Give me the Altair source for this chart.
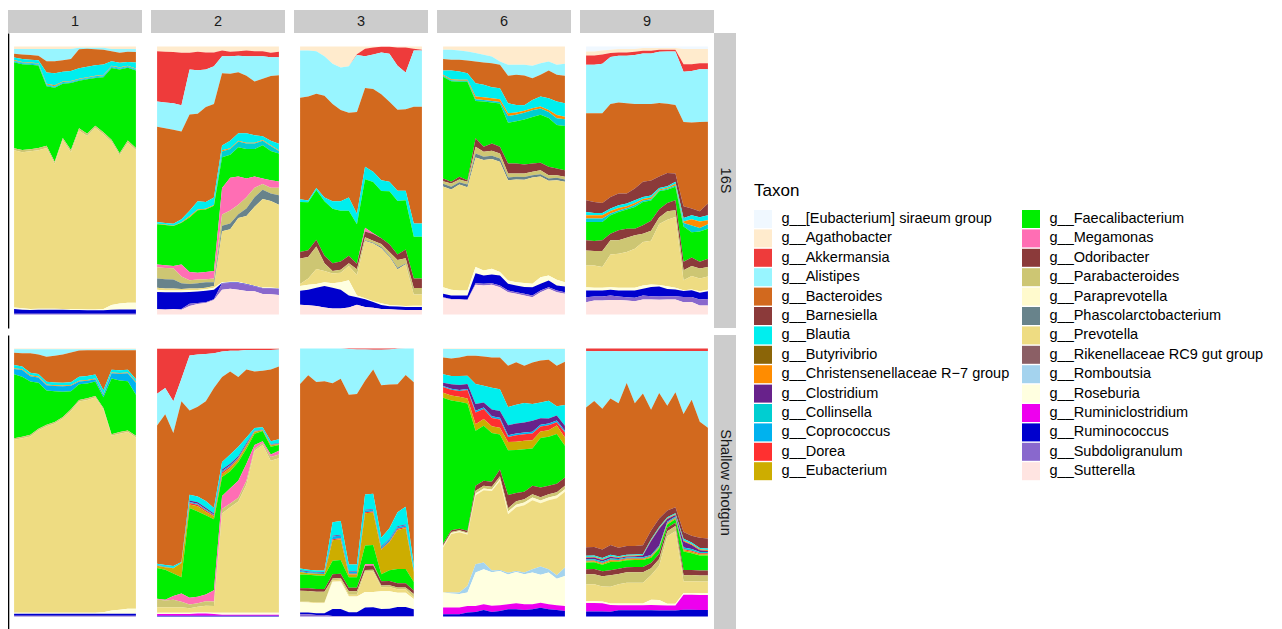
import altair as alt
import pandas as pd

FONT = "Liberation Sans"
STRIP_GRAY = "#CCCCCC"
TEXT_COL = "#1A1A1A"

SHORT = [
    "[Eubacterium] siraeum group", "Agathobacter", "Akkermansia", "Alistipes",
    "Bacteroides", "Barnesiella", "Blautia", "Butyrivibrio",
    "Christensenellaceae R\u22127 group", "Clostridium", "Collinsella", "Coprococcus",
    "Dorea", "Eubacterium", "Faecalibacterium", "Megamonas", "Odoribacter",
    "Parabacteroides", "Paraprevotella", "Phascolarctobacterium", "Prevotella",
    "Rikenellaceae RC9 gut group", "Romboutsia", "Roseburia", "Ruminiclostridium",
    "Ruminococcus", "Subdoligranulum", "Sutterella",
]
COLORS = [
    "#F0F8FF", "#FFEBCD", "#EE3B3B", "#98F5FF", "#D2691E", "#8B3A3A", "#00EEEE",
    "#8B6508", "#FF8C00", "#68228B", "#00CED1", "#00B2EE", "#FF3030", "#CDAD00",
    "#00EE00", "#FF6EB4", "#8B3A3A", "#CDC673", "#FFFACD", "#68838B", "#EEDC82",
    "#8B5F65", "#A4D3EE", "#FFFFE0", "#EE00EE", "#0000CD", "#8968CD", "#FFE4E1",
]
CHR = "Christensenellaceae R\u22127 group"

COLUMN_LABELS = ["1", "2", "3", "6", "9"]
ROW_LABELS = ["16S", "Shallow shotgun"]

# ---- column 1 ----
P1_16S = {
    "Agathobacter": [1, 1, 1, 1, 1, 1, 1, 1, 0.5, 0.5, 0.5, 0.5, 1, 1, 1, 1],
    "Alistipes": [1.7, 2, 2.2, 2.5, 4.5, 4.5, 4.2, 3.7, 0.6, 0.4, 0.6, 0.7, 0.8, 1.4, 1, 1.1],
    "Bacteroides": [1.4, 1.7, 1.8, 1.7, 4.2, 4.5, 4.2, 4.5, 7, 6.6, 5.9, 5.5, 3.7, 3.7, 3.8, 3.9],
    "Blautia": [1, 1.1, 1, 1.1, 4.2, 4.5, 3.7, 3.7, 3.9, 3.9, 3.9, 3.9, 1.7, 1.7, 1.4, 2.2],
    CHR: [0.2, 0.2, 0.2, 0.2, 0.3, 0.3, 0.2, 0.2, 0.2, 0.2, 0.2, 0.2, 0.2, 0.2, 0.2, 0.2],
    "Collinsella": [0.3, 0.3, 0.3, 0.3, 0.3, 0.3, 0.3, 0.3, 0.3, 0.3, 0.3, 0.3, 0.3, 0.3, 0.3, 0.3],
    "Coprococcus": [0.3, 0.3, 0.3, 0.3, 0.3, 0.3, 0.3, 0.3, 0.3, 0.3, 0.3, 0.3, 0.3, 0.3, 0.3, 0.3],
    "Faecalibacterium": [32, 32, 31.5, 30.8, 22.2, 27.5, 20.2, 25, 17.6, 20.2, 17.7, 20.4, 26.7, 31.2, 27.1, 28.8],
    "Parabacteroides": [0.8, 0.8, 0.8, 0.8, 0.8, 0.8, 0.8, 0.8, 0.8, 0.8, 0.8, 0.8, 0.8, 0.8, 0.8, 0.8],
    "Prevotella": [58.6, 58.1, 58.7, 59.1, 59.8, 53.9, 62.9, 58.7, 66.4, 64.3, 67.4, 64.7, 60.7, 55.3, 59.7, 56.9],
    "Roseburia": [0.5, 0.6, 0.4, 0.4, 0.4, 0.4, 0.3, 0.3, 0.3, 0.3, 0.3, 0.5, 1.8, 2.2, 2.5, 2.5],
    "Ruminococcus": [1.8, 1.5, 1.4, 1.5, 1.5, 1.5, 1.5, 1.4, 1.4, 1.3, 1.3, 1.3, 1.5, 1.6, 1.6, 1.6],
    "Subdoligranulum": [0.3, 0.3, 0.3, 0.3, 0.3, 0.3, 0.3, 0.3, 0.3, 0.3, 0.3, 0.3, 0.3, 0.3, 0.3, 0.3],
}
P1_SG = {
    "Agathobacter": [0.3, 0.3, 0.3, 0.3, 0.3, 0.3, 0.3, 0.3, 0.3, 0.3, 0.3, 0.3, 0.3, 0.3, 0.3, 0.3],
    "Alistipes": [1.3, 1.5, 1.5, 2, 2.8, 2.5, 2, 1.2, 0.5, 0.4, 0.4, 0.4, 0.4, 0.4, 0.4, 0.4],
    "Bacteroides": [4.6, 5, 7.3, 7.3, 9.4, 10, 10.6, 11.2, 9.8, 9.6, 9.1, 15, 7.3, 7.5, 7.3, 10.8],
    "Blautia": [1.2, 1, 1, 1, 1, 1, 1, 1, 1.5, 1.5, 1.5, 1.5, 1, 1, 1, 1],
    CHR: [0.3, 0.3, 0.3, 0.3, 0.3, 0.3, 0.3, 0.3, 0.3, 0.3, 0.3, 0.3, 0.3, 0.3, 0.3, 0.3],
    "Coprococcus": [2, 2.5, 2, 2, 2, 2, 2, 2, 1, 1, 0.8, 0.8, 2, 2.5, 3, 4.5],
    "Faecalibacterium": [23.9, 22.5, 20, 17.3, 12.8, 11.5, 9.5, 6.8, 5.9, 5.6, 5.4, 4, 20.8, 19.3, 18.4, 15.4],
    "Parabacteroides": [0.6, 0.6, 0.6, 0.6, 0.6, 0.6, 0.6, 0.6, 0.6, 0.6, 0.6, 0.6, 0.6, 0.6, 0.6, 0.6],
    "Prevotella": [64.8, 65.4, 66.2, 68.6, 70, 71, 72.8, 75.6, 79, 79.7, 80.7, 76, 65.4, 65.8, 66.2, 64.1],
    "Roseburia": [0.3, 0.3, 0.3, 0.3, 0.3, 0.3, 0.3, 0.3, 0.3, 0.3, 0.3, 0.5, 1.2, 1.5, 1.8, 1.8],
    "Ruminococcus": [0.8, 0.8, 0.8, 0.8, 0.8, 0.8, 0.8, 0.8, 0.8, 0.8, 0.8, 0.8, 0.8, 0.8, 0.8, 0.8],
    "Subdoligranulum": [0.3, 0.3, 0.3, 0.3, 0.3, 0.3, 0.3, 0.3, 0.3, 0.3, 0.3, 0.3, 0.3, 0.3, 0.3, 0.3],
}

# ---- column 2 ----
P2_16S = {
    "Agathobacter": [13, 14, 15, 17, 17, 14, 16, 16, 11, 14, 13, 11, 13, 13, 17, 14],
    "Akkermansia": [133, 135, 136, 139, 44, 49, 45, 37, 15, 12, 12, 15, 13, 13, 12, 15],
    "Alistipes": [67, 68, 70, 70, 120, 116, 100, 100, 45, 47, 44, 52, 67, 60, 50, 48],
    "Bacteroides": [253, 252, 250, 233, 255, 232, 252, 248, 192, 178, 162, 153, 143, 153, 172, 182],
    "Blautia": [5, 4, 5, 8, 15, 22, 18, 20, 13, 20, 20, 25, 20, 10, 12, 17],
    CHR: [1, 1, 1, 1, 3, 2, 2, 2, 3, 2, 2, 2, 2, 2, 2, 2],
    "Collinsella": [0, 0, 0, 0, 0, 0, 0, 0, 15, 15, 15, 15, 15, 12, 13, 7],
    "Faecalibacterium": [107, 107, 106, 111, 145, 166, 166, 173, 82, 61, 78, 78, 73, 88, 78, 74],
    "Megamonas": [7, 7, 6, 32, 22, 18, 19, 20, 70, 87, 75, 50, 30, 15, 20, 17],
    "Parabacteroides": [30, 30, 30, 18, 10, 10, 8, 10, 30, 35, 25, 30, 25, 15, 15, 20],
    "Phascolarctobacterium": [25, 25, 24, 15, 12, 14, 15, 10, 15, 15, 10, 20, 25, 25, 20, 25],
    "Prevotella": [5, 5, 5, 4, 4, 4, 4, 5, 135, 140, 170, 180, 210, 235, 230, 222],
    "Roseburia": [6, 5, 5, 5, 5, 4, 4, 5, 2, 2, 2, 1, 1, 1, 1, 1],
    "Ruminococcus": [45, 45, 44, 44, 31, 30, 30, 25, 1, 1, 1, 1, 1, 1, 1, 1],
    "Subdoligranulum": [1, 1, 1, 2, 6, 3, 2, 2, 17, 15, 18, 17, 13, 15, 16, 16],
    "Sutterella": [14, 13, 14, 13, 23, 28, 31, 39, 66, 69, 66, 63, 62, 55, 54, 52],
}
P2_SG = {
    "Agathobacter": [1, 1, 1, 1, 1, 1, 1, 1, 1, 1, 1, 1, 1, 1, 1, 1],
    "Akkermansia": [120, 105, 140, 80, 18, 15, 14, 12, 7, 5, 5, 3, 3, 3, 3, 2],
    "Alistipes": [85, 70, 85, 60, 147, 140, 126, 93, 68, 55, 70, 52, 57, 55, 52, 45],
    "Bacteroides": [370, 402, 355, 430, 225, 240, 267, 320, 225, 220, 185, 180, 150, 150, 190, 193],
    "Blautia": [3, 4, 5, 2, 15, 15, 18, 15, 20, 25, 25, 15, 7, 5, 8, 10],
    "Clostridium": [1, 1, 0, 0, 4, 4, 4, 3, 4, 4, 3, 3, 1, 1, 1, 1],
    "Coprococcus": [1, 1, 1, 1, 3, 3, 3, 2, 3, 3, 2, 2, 1, 1, 1, 1],
    "Dorea": [0, 0, 0, 0, 4, 4, 4, 3, 5, 4, 3, 3, 1, 1, 1, 1],
    "Eubacterium": [6, 7, 14, 38, 9, 14, 9, 7, 8, 9, 7, 7, 5, 2, 4, 2],
    "Faecalibacterium": [82, 80, 60, 43, 240, 228, 212, 190, 50, 45, 50, 40, 30, 27, 20, 15],
    "Megamonas": [2, 2, 10, 22, 18, 17, 18, 30, 35, 40, 45, 45, 10, 5, 7, 10],
    "Parabacteroides": [21, 18, 20, 15, 10, 10, 12, 12, 12, 10, 10, 10, 5, 5, 10, 10],
    "Prevotella": [15, 15, 15, 15, 12, 15, 18, 18, 263, 280, 295, 340, 430, 445, 403, 410],
    "Roseburia": [3, 3, 3, 3, 3, 3, 3, 3, 5, 5, 5, 5, 5, 5, 5, 5],
    "Ruminiclostridium": [5, 5, 5, 5, 5, 6, 6, 5, 3, 3, 3, 3, 3, 3, 3, 3],
    "Ruminococcus": [2, 2, 2, 2, 2, 2, 2, 2, 2, 2, 2, 2, 2, 2, 2, 2],
}

# ---- column 3 ----
P3_16S = {
    "Agathobacter": [11, 11, 13, 26, 46, 56, 53, 21, 6, 3, 1, 1, 3, 3, 6, 9],
    "Akkermansia": [0, 0, 0, 0, 0, 0, 0, 2, 20, 18, 15, 18, 48, 66, 5, 2],
    "Alistipes": [125, 122, 113, 105, 107, 113, 123, 152, 83, 90, 110, 127, 115, 97, 148, 148],
    "Bacteroides": [270, 276, 250, 270, 258, 242, 225, 272, 207, 215, 227, 210, 213, 215, 307, 307],
    "Blautia": [7, 5, 5, 10, 20, 25, 35, 28, 33, 27, 28, 25, 27, 25, 35, 35],
    "Faecalibacterium": [133, 127, 132, 145, 145, 135, 120, 105, 127, 133, 125, 140, 140, 130, 110, 110],
    "Megamonas": [0, 0, 0, 0, 0, 0, 0, 0, 10, 2, 0, 0, 0, 0, 0, 0],
    "Odoribacter": [17, 18, 18, 20, 20, 22, 20, 15, 15, 18, 15, 20, 15, 23, 25, 25],
    "Parabacteroides": [68, 57, 60, 20, 7, 8, 7, 15, 8, 5, 8, 10, 20, 14, 17, 17],
    "Phascolarctobacterium": [0, 0, 0, 0, 0, 0, 0, 0, 2, 2, 3, 3, 4, 2, 0, 0],
    "Prevotella": [5, 17, 40, 30, 26, 25, 38, 55, 150, 150, 145, 127, 95, 110, 30, 30],
    "Roseburia": [13, 13, 10, 10, 12, 20, 40, 5, 3, 2, 5, 3, 3, 3, 3, 3],
    "Ruminococcus": [37, 41, 48, 57, 55, 50, 32, 20, 20, 15, 10, 8, 8, 8, 8, 8],
    "Sutterella": [26, 25, 23, 19, 16, 16, 19, 26, 20, 18, 15, 14, 13, 12, 12, 12],
}
P3_SG = {
    "Akkermansia": [0, 0, 0, 0, 0, 0, 2, 3, 3, 4, 4, 3, 1, 0, 0],
    "Alistipes": [105, 80, 100, 98, 102, 88, 130, 127, 92, 58, 101, 99, 100, 75, 100],
    "Bacteroides": [545, 578, 560, 564, 408, 412, 483, 485, 335, 363, 435, 408, 360, 370, 540],
    "Blautia": [5, 5, 5, 5, 40, 40, 20, 20, 45, 45, 25, 30, 40, 50, 15],
    "Clostridium": [2, 2, 2, 2, 2, 2, 1, 1, 2, 2, 2, 2, 2, 2, 1],
    "Coprococcus": [3, 3, 3, 3, 8, 8, 5, 5, 5, 5, 5, 5, 5, 5, 3],
    "Dorea": [0, 0, 0, 0, 3, 3, 2, 2, 3, 3, 2, 2, 3, 3, 1],
    "Eubacterium": [8, 5, 5, 5, 60, 60, 8, 8, 95, 95, 70, 80, 110, 115, 30],
    "Faecalibacterium": [40, 40, 40, 40, 40, 40, 30, 30, 55, 55, 20, 30, 40, 40, 25],
    "Megamonas": [0, 0, 0, 0, 0, 0, 0, 0, 5, 5, 0, 0, 0, 0, 0],
    "Odoribacter": [8, 8, 8, 8, 12, 12, 10, 10, 12, 12, 12, 12, 12, 12, 10],
    "Parabacteroides": [32, 32, 32, 32, 5, 5, 10, 10, 5, 5, 5, 5, 5, 5, 10],
    "Prevotella": [2, 2, 2, 2, 5, 5, 5, 5, 60, 60, 12, 12, 10, 10, 5],
    "Roseburia": [30, 30, 30, 30, 80, 80, 45, 45, 45, 45, 50, 50, 40, 40, 30],
    "Ruminococcus": [5, 5, 5, 5, 20, 20, 10, 10, 25, 25, 20, 20, 25, 25, 20],
    "Subdoligranulum": [7, 7, 5, 5, 2, 2, 2, 2, 2, 2, 2, 2, 2, 2, 2],
}

# ---- column 6 ----
P6_16S = {
    "Agathobacter": [10, 10, 12, 15, 20, 25, 30, 45, 55, 55, 55, 58, 50, 45, 55, 52],
    "Alistipes": [28, 30, 28, 27, 25, 23, 20, 10, 33, 30, 32, 37, 35, 27, 30, 36],
    "Bacteroides": [34, 32, 35, 38, 65, 67, 72, 70, 82, 90, 88, 65, 65, 83, 80, 82],
    "Blautia": [13, 26, 25, 20, 40, 37, 33, 33, 30, 23, 17, 25, 30, 35, 40, 40],
    CHR: [3, 3, 3, 3, 8, 8, 8, 8, 8, 6, 6, 6, 6, 6, 10, 8],
    "Collinsella": [3, 3, 3, 3, 5, 5, 5, 5, 20, 20, 20, 20, 18, 18, 20, 20],
    "Faecalibacterium": [304, 301, 284, 294, 112, 135, 122, 129, 122, 126, 134, 139, 144, 146, 130, 132],
    "Odoribacter": [8, 5, 8, 5, 25, 15, 22, 20, 30, 30, 27, 25, 22, 25, 20, 20],
    "Parabacteroides": [8, 10, 8, 8, 20, 15, 15, 15, 12, 10, 10, 10, 12, 10, 8, 8],
    "Phascolarctobacterium": [8, 8, 7, 8, 12, 10, 10, 10, 8, 8, 8, 7, 7, 7, 7, 7],
    "Prevotella": [301, 300, 317, 309, 328, 330, 328, 330, 300, 307, 308, 318, 301, 283, 298, 300],
    "Roseburia": [20, 17, 15, 15, 18, 15, 17, 10, 10, 10, 12, 10, 20, 15, 17, 13],
    "Ruminococcus": [10, 10, 10, 12, 30, 25, 26, 30, 20, 20, 20, 25, 20, 20, 15, 17],
    "Subdoligranulum": [2, 2, 2, 2, 5, 5, 5, 5, 5, 5, 5, 5, 5, 5, 5, 5],
    "Sutterella": [50, 45, 45, 43, 89, 87, 89, 82, 67, 62, 57, 52, 67, 77, 67, 62],
}
P6_SG = {
    "Agathobacter": [2, 2, 2, 2, 2, 2, 2, 2, 2, 2, 2, 2, 2, 2, 2, 2],
    "Alistipes": [25, 28, 25, 20, 20, 22, 25, 25, 50, 40, 50, 40, 35, 32, 50, 38],
    "Bacteroides": [50, 52, 55, 60, 85, 88, 90, 95, 125, 128, 112, 125, 127, 123, 122, 130],
    "Blautia": [25, 25, 27, 25, 60, 50, 65, 65, 55, 57, 58, 50, 48, 53, 28, 62],
    "Clostridium": [10, 13, 15, 15, 20, 15, 20, 20, 30, 30, 30, 33, 20, 15, 15, 15],
    "Coprococcus": [3, 3, 3, 3, 5, 5, 5, 5, 5, 5, 5, 5, 5, 5, 5, 5],
    "Dorea": [17, 17, 17, 25, 35, 30, 25, 25, 15, 20, 20, 20, 15, 15, 10, 15],
    "Eubacterium": [15, 15, 15, 15, 20, 20, 20, 20, 25, 25, 25, 25, 20, 20, 25, 25],
    "Faecalibacterium": [435, 387, 378, 382, 165, 165, 145, 105, 135, 130, 128, 112, 150, 147, 150, 95],
    "Odoribacter": [5, 5, 5, 5, 15, 15, 15, 20, 40, 25, 22, 25, 30, 25, 25, 25],
    "Parabacteroides": [3, 3, 3, 3, 8, 8, 8, 8, 10, 10, 10, 10, 10, 10, 10, 10],
    "Paraprevotella": [3, 3, 3, 3, 5, 5, 5, 5, 8, 8, 8, 8, 8, 8, 8, 8],
    "Prevotella": [134, 174, 179, 154, 207, 217, 237, 267, 177, 192, 202, 207, 192, 207, 232, 227],
    "Romboutsia": [0, 3, 5, 20, 25, 20, 5, 3, 5, 3, 5, 10, 25, 10, 10, 25],
    "Roseburia": [45, 42, 40, 40, 100, 105, 100, 102, 90, 95, 90, 95, 85, 95, 80, 90],
    "Ruminiclostridium": [20, 20, 20, 20, 18, 17, 18, 17, 15, 18, 17, 15, 15, 15, 14, 15],
    "Ruminococcus": [7, 7, 7, 12, 14, 20, 14, 17, 22, 22, 20, 22, 27, 22, 20, 17],
}

# ---- column 9 ----
P9_16S = {
    "[Eubacterium] siraeum group": [15, 15, 12, 10, 8, 8, 8, 5, 5, 5, 5, 5, 8, 8, 8, 8],
    "Agathobacter": [12, 12, 12, 10, 10, 10, 8, 8, 8, 5, 5, 5, 45, 45, 42, 42],
    "Akkermansia": [28, 28, 28, 12, 10, 10, 10, 8, 8, 6, 5, 5, 22, 20, 18, 18],
    "Alistipes": [145, 145, 148, 140, 140, 142, 146, 151, 151, 156, 157, 160, 150, 152, 157, 157],
    "Bacteroides": [260, 265, 268, 278, 272, 270, 253, 233, 228, 223, 208, 205, 250, 255, 265, 245],
    "Barnesiella": [35, 33, 30, 35, 35, 30, 35, 45, 45, 35, 40, 25, 35, 20, 18, 35],
    "Blautia": [10, 7, 7, 7, 8, 8, 8, 6, 6, 5, 4, 6, 10, 12, 12, 15],
    CHR: [10, 10, 10, 8, 8, 6, 6, 5, 5, 3, 3, 5, 5, 18, 20, 12],
    "Collinsella": [10, 10, 10, 5, 4, 4, 6, 4, 4, 2, 3, 4, 10, 20, 10, 13],
    "Faecalibacterium": [55, 57, 55, 55, 55, 57, 65, 70, 60, 55, 40, 40, 105, 75, 90, 90],
    "Odoribacter": [30, 30, 32, 20, 30, 27, 20, 25, 30, 25, 25, 30, 25, 25, 20, 25],
    "Parabacteroides": [45, 43, 48, 42, 40, 43, 40, 25, 30, 20, 25, 20, 30, 30, 30, 28],
    "Prevotella": [65, 67, 62, 98, 102, 107, 117, 130, 130, 185, 200, 212, 30, 40, 38, 40],
    "Roseburia": [10, 8, 8, 8, 8, 8, 8, 10, 8, 5, 8, 5, 2, 2, 4, 4],
    "Ruminococcus": [20, 18, 18, 17, 18, 20, 22, 20, 27, 30, 22, 20, 18, 20, 20, 23],
    "Subdoligranulum": [15, 12, 12, 13, 10, 10, 10, 12, 10, 10, 10, 10, 15, 15, 18, 20],
    "Sutterella": [37, 42, 42, 44, 44, 42, 40, 45, 45, 45, 45, 45, 37, 37, 27, 27],
}
P9_SG = {
    "Akkermansia": [8, 8, 8, 8, 8, 8, 8, 8, 8, 8, 8, 8, 8, 8, 8, 8],
    "Alistipes": [167, 147, 172, 144, 150, 92, 150, 122, 167, 122, 162, 122, 187, 144, 212, 230],
    "Bacteroides": [413, 430, 420, 443, 417, 472, 412, 438, 345, 365, 310, 340, 350, 403, 348, 332],
    "Barnesiella": [25, 25, 25, 30, 25, 25, 25, 25, 25, 25, 20, 18, 20, 20, 30, 30],
    "Blautia": [4, 4, 4, 4, 3, 3, 3, 3, 3, 3, 3, 3, 5, 5, 4, 4],
    CHR: [2, 2, 2, 2, 2, 2, 2, 2, 2, 2, 2, 2, 3, 3, 3, 3],
    "Clostridium": [5, 5, 5, 5, 3, 3, 3, 5, 40, 50, 8, 5, 18, 12, 5, 3],
    "Collinsella": [4, 4, 4, 4, 3, 3, 3, 3, 3, 3, 3, 3, 5, 5, 4, 4],
    "Dorea": [2, 2, 2, 2, 2, 2, 2, 2, 2, 2, 2, 2, 3, 3, 3, 3],
    "Eubacterium": [3, 3, 3, 5, 3, 3, 3, 3, 3, 3, 3, 3, 4, 4, 4, 4],
    "Faecalibacterium": [20, 20, 20, 25, 20, 20, 20, 20, 15, 15, 10, 10, 55, 50, 45, 45],
    "Odoribacter": [15, 15, 15, 15, 15, 15, 15, 15, 15, 15, 10, 10, 15, 15, 15, 15],
    "Parabacteroides": [30, 30, 30, 35, 30, 30, 30, 30, 20, 20, 15, 15, 18, 18, 18, 18],
    "Prevotella": [50, 50, 45, 50, 55, 60, 60, 60, 70, 100, 200, 215, 35, 35, 35, 35],
    "Roseburia": [5, 5, 5, 5, 5, 5, 5, 5, 15, 15, 5, 5, 5, 5, 5, 5],
    "Ruminiclostridium": [25, 25, 25, 20, 15, 15, 15, 15, 15, 15, 15, 15, 45, 45, 45, 45],
    "Ruminococcus": [15, 15, 15, 15, 18, 18, 18, 18, 18, 18, 18, 18, 20, 20, 20, 20],
}

GRID = [
    [P1_16S, P2_16S, P3_16S, P6_16S, P9_16S],
    [P1_SG, P2_SG, P3_SG, P6_SG, P9_SG],
]

# ---------------------------------------------------------------------------
W, H = 134, 295
TAXA = ["g__" + s for s in SHORT]
NT = len(TAXA)


def panel_df(d):
    n = len(next(iter(d.values())))
    rows = []
    for k, s in enumerate(SHORT):
        vals = d.get(s)
        if vals is None:
            vals = [0] * n
        for i, v in enumerate(vals):
            rows.append({"sample": i + 1, "taxon": "g__" + s, "value": v,
                         "stackpos": NT - 1 - k})
    return pd.DataFrame(rows)


legend = alt.Legend(
    title="Taxon", orient="none", legendX=746, legendY=150, columns=2,
    symbolType="square", symbolSize=324, symbolStrokeWidth=0, symbolOpacity=1,
    labelFont=FONT, labelFontSize=14.5, labelColor="#000000", labelOffset=9.5,
    labelLimit=400, titleFont=FONT, titleFontSize=17, titleFontWeight="normal",
    titleColor="#000000", titlePadding=10, rowPadding=1.4, columnPadding=12,
)
color = alt.Color("taxon:N", scale=alt.Scale(domain=TAXA, range=COLORS),
                  legend=legend)
one = pd.DataFrame({"k": [0]})
noframe = alt.ViewBackground(stroke="transparent", strokeWidth=0)

rows = []
for r, row in enumerate(GRID):
    cells = []
    for c, d in enumerate(row):
        if c == 0:
            yaxis = alt.Axis(labels=False, ticks=False, title=None, grid=False,
                             domain=True, domainColor="#000000", domainWidth=1.6,
                             minExtent=0, maxExtent=0)
        else:
            yaxis = None
        area = alt.Chart(panel_df(d)).mark_area(interpolate="linear").encode(
            x=alt.X("sample:Q", scale=alt.Scale(domain=[0.25, 16.75], nice=False, zero=False),
                    axis=None),
            y=alt.Y("value:Q", stack="normalize",
                    scale=alt.Scale(domain=[-0.05, 1.05], nice=False, zero=False),
                    axis=yaxis),
            color=color,
            order=alt.Order("stackpos:Q", sort="ascending"),
        )
        layers = [area]
        if r == 0:
            layers.append(alt.Chart(one).mark_rect(color=STRIP_GRAY).encode(
                x=alt.value(0), x2=alt.value(W), y=alt.value(-23), y2=alt.value(0)))
            layers.append(alt.Chart(one).mark_text(
                font=FONT, fontSize=14.5, color=TEXT_COL, align="center",
                baseline="middle").encode(
                x=alt.value(W / 2), y=alt.value(-11.5), text=alt.value(COLUMN_LABELS[c])))
        if c == len(row) - 1:
            layers.append(alt.Chart(one).mark_rect(color=STRIP_GRAY).encode(
                x=alt.value(W), x2=alt.value(W + 22), y=alt.value(0), y2=alt.value(H)))
            layers.append(alt.Chart(one).mark_text(
                font=FONT, fontSize=14.5, color=TEXT_COL, align="center",
                baseline="middle", angle=90).encode(
                x=alt.value(W + 11), y=alt.value(H / 2), text=alt.value(ROW_LABELS[r])))
        cells.append(alt.layer(*layers).properties(width=W, height=H, view=noframe))
    rows.append(alt.hconcat(*cells, spacing=9, bounds="flush"))

chart = alt.vconcat(*rows, spacing=7).properties(
    padding={"left": 0, "top": 2, "right": 5, "bottom": 0}
).configure_view(strokeWidth=0, stroke="transparent").configure(font=FONT)

chart.save("out.html", embed_options={"renderer": "svg", "actions": False})
